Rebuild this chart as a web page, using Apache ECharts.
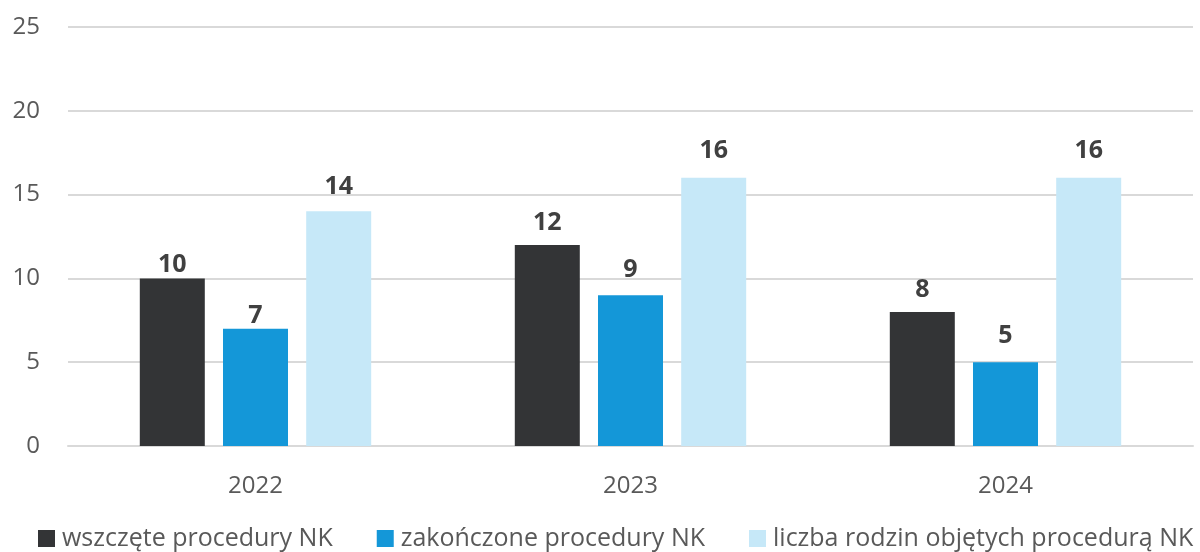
<!DOCTYPE html>
<html>
<head>
<meta charset="utf-8">
<script src="https://cdn.jsdelivr.net/npm/echarts@6/dist/echarts.min.js"></script>
<style>
  html, body { margin: 0; padding: 0; background: #fff; }
  #chart { width: 1200px; height: 552px; }
</style>
</head>
<body>
<div id="chart"></div>
<script>
const years = ['2022', '2023', '2024'];
const seriesNames = ['wszczęte procedury NK', 'zakończone procedury NK', 'liczba rodzin objętych procedurą NK'];
const started = [10, 12, 8];
const finished = [7, 9, 5];
const families = [14, 16, 16];
const colors = ['#333436', '#1497d8', '#c6e8f8'];

// value labels sit at slightly different heights above the bars in the original
const labelGap = [[1, 10, 10], [0, 13, 14], [12, 14, 14]];

const font = '"Open Sans", "Noto Sans", sans-serif';

function bar(i, data) {
  return {
    name: seriesNames[i],
    type: 'bar',
    data: data.map((v, j) => ({ value: v, label: { distance: labelGap[i][j] } })),
    barWidth: 65,
    barGap: '28%',
    itemStyle: { color: colors[i] },
    label: {
      show: true,
      position: 'top',
      fontFamily: font,
      fontSize: 25,
      fontWeight: 'bold',
      color: '#404040'
    }
  };
}

const chart = echarts.init(document.getElementById('chart'));
chart.setOption({
  animation: false,
  color: colors,
  grid: { left: 68, right: 7, top: 27, bottom: 106 },
  legend: {
    bottom: 1,
    left: 38,
    width: 1162,
    padding: 0,
    itemWidth: 17,
    itemHeight: 17,
    itemGap: 44,
    icon: 'rect',
    textStyle: { fontFamily: font, fontSize: 25, color: '#595959', padding: [0, 0, 0, 2] }
  },
  xAxis: {
    type: 'category',
    data: years,
    axisLine: { lineStyle: { color: '#d9d9d9', width: 2 } },
    axisTick: { show: false },
    axisLabel: { fontFamily: font, fontSize: 24, color: '#595959', margin: 28 }
  },
  yAxis: {
    type: 'value',
    min: 0,
    max: 25,
    interval: 5,
    axisLine: { show: false },
    axisTick: { show: false },
    splitLine: { lineStyle: { color: '#d9d9d9', width: 2 } },
    axisLabel: { fontFamily: font, fontSize: 24, color: '#595959', margin: 28 }
  },
  series: [
    bar(0, started),
    bar(1, finished),
    bar(2, families)
  ]
});
</script>
</body>
</html>
